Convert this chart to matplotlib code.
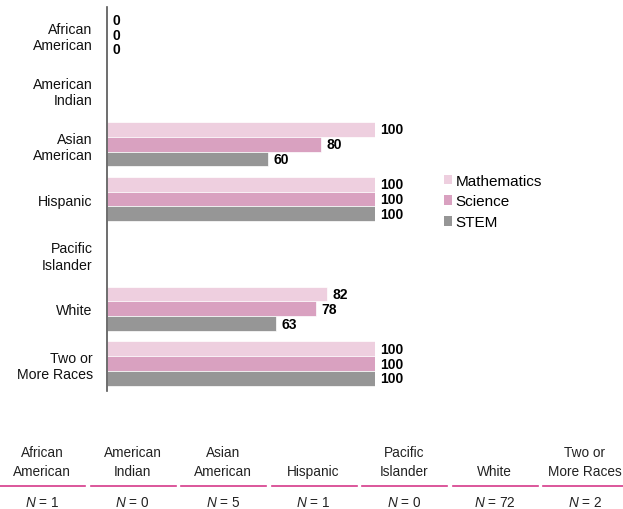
import numpy as np
import matplotlib.pyplot as plt
from matplotlib.lines import Line2D
from matplotlib.patches import Patch

plt.rcParams['font.family'] = ['Liberation Sans', 'DejaVu Sans']
plt.rcParams['mathtext.fontset'] = 'custom'
plt.rcParams['mathtext.it'] = 'Liberation Sans:italic'
plt.rcParams['mathtext.rm'] = 'Liberation Sans'

categories = ['African\nAmerican', 'American\nIndian', 'Asian\nAmerican', 'Hispanic',
              'Pacific\nIslander', 'White', 'Two or\nMore Races']
series_names = ['Mathematics', 'Science', 'STEM']
mathematics = [0, np.nan, 100, 100, np.nan, 82, 100]
science = [0, np.nan, 80, 100, np.nan, 78, 100]
stem = [0, np.nan, 60, 100, np.nan, 63, 100]
n_counts = [1, 0, 5, 1, 0, 72, 2]

colors = ['#eecfdf', '#d9a1c0', '#969696']
pink = '#d63a8a'

fig = plt.figure(figsize=(6.23, 5.10), dpi=100)
ax = fig.add_axes([0.171, 0.2314, 0.431, 0.7526])

y = np.arange(len(categories))
bar_h = 0.27
for i, (name, vals, col) in enumerate(zip(series_names, [mathematics, science, stem], colors)):
    pos = y + (i - 1) * bar_h
    vals = np.array(vals, dtype=float)
    ax.barh(pos, np.nan_to_num(vals), height=bar_h, color=col, edgecolor='white',
            linewidth=0.5, label=name)
    for p, v in zip(pos, vals):
        if not np.isnan(v):
            ax.annotate(f'{v:.0f}', (v, p), xytext=(4, 0), textcoords='offset points',
                        va='center', ha='left', fontsize=10, fontweight='bold')

ax.set_xlim(0, 100)
ax.set_ylim(len(categories) - 0.5, -0.5)
ax.set_yticks(y)
ax.set_yticklabels(categories, fontsize=10.2, color='#111111')
ax.tick_params(axis='y', length=0, pad=10)
ax.set_xticks([])
for s in ['top', 'right', 'bottom']:
    ax.spines[s].set_visible(False)
ax.spines['left'].set_color('#555555')
ax.spines['left'].set_linewidth(1.2)

handles = [Patch(facecolor=c, edgecolor='none') for c in colors]
fig.legend(handles, series_names, loc='center left', bbox_to_anchor=(0.690, 0.603),
           frameon=False, fontsize=11, handlelength=0.55, handleheight=0.55,
           handletextpad=0.25, labelspacing=0.45)

# table of N values below the chart
W, H = 623, 510
col_step = 90.5
for i, (cat, n) in enumerate(zip(categories, n_counts)):
    x0 = i * col_step
    x1 = x0 + 85 if i < len(categories) - 1 else W
    cx = 42 + i * col_step
    fig.add_artist(Line2D([x0 / W, x1 / W], [1 - 487 / H, 1 - 487 / H], color=pink, lw=1.2))
    fig.text(cx / W, 1 - 479 / H, cat, ha='center', va='bottom', fontsize=9.8,
             multialignment='center', linespacing=1.45, color='#222222')
    fig.text(cx / W, 1 - 503 / H, f'$N$ = {n}', ha='center', va='center', fontsize=9.8,
             color='#222222')

fig.savefig('out.png', dpi=100)
